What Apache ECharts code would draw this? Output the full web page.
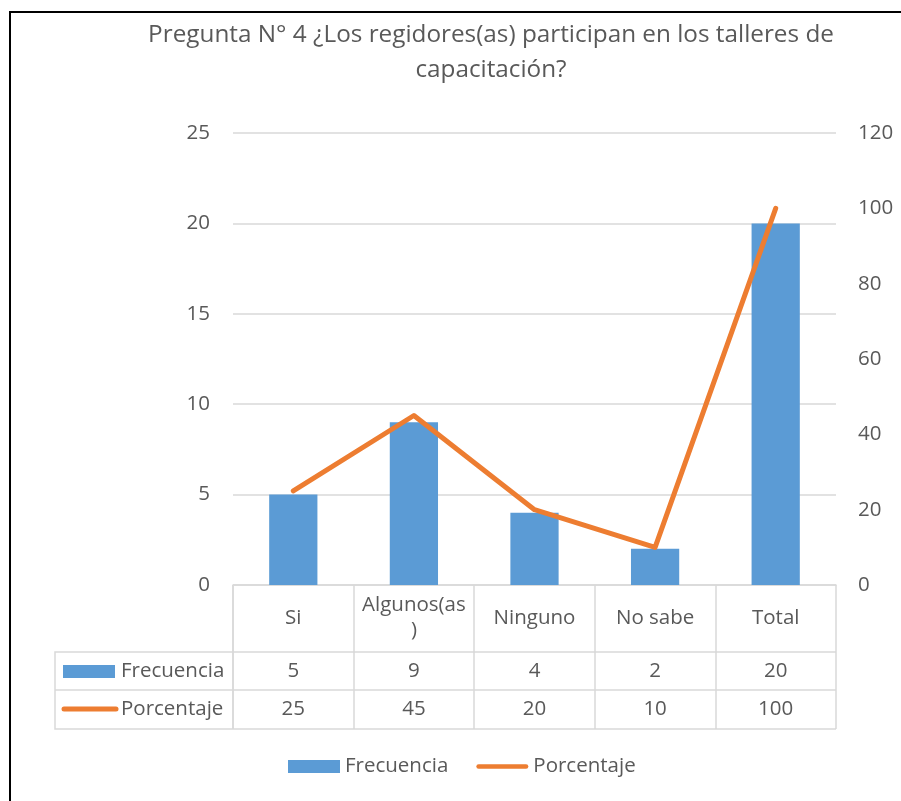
<!DOCTYPE html>
<html>
<head>
<meta charset="utf-8">
<script src="https://cdn.jsdelivr.net/npm/echarts@6/dist/echarts.min.js"></script>
<style>
  html, body { margin: 0; padding: 0; background: #fff; }
  #chart { width: 901px; height: 801px; }
</style>
</head>
<body>
<div id="chart"></div>
<script>
const categories = ['Si', 'Algunos(as)', 'Ninguno', 'No sabe', 'Total']
const frecuencia = [5, 9, 4, 2, 20]
const porcentaje = [25, 45, 20, 10, 100]
const leftTicks = [0, 5, 10, 15, 20, 25]
const rightTicks = [0, 20, 40, 60, 80, 100, 120]

const FONT = '"Open Sans", sans-serif'
const TEXT = '#595959'
const LINE = '#D9D9D9'
const BLUE = '#5B9BD5'
const ORANGE = '#ED7D31'
const FS = 20.5

// plot area (Excel layout)
const plotLeft = 233
const plotRight = 836
const plotTop = 133
const plotBottom = 585
const row1 = 652
const row2 = 690
const row3 = 729
const headLeft = 55

const chart = echarts.init(document.getElementById('chart'))

const tableAxis = (values, margin) => ({
  type: 'category',
  data: values.map(String),
  position: 'bottom',
  axisLine: { show: false },
  axisTick: { show: false },
  axisLabel: {
    margin: margin,
    verticalAlign: 'middle',
    color: TEXT,
    fontFamily: FONT,
    fontSize: FS,
    interval: 0
  }
})

const option = {
  animation: false,
  textStyle: { fontFamily: FONT },
  title: {
    text: 'Pregunta N° 4 ¿Los regidores(as) participan en los talleres de\ncapacitación?',
    left: 486,
    top: 13,
    textAlign: 'center',
    textStyle: {
      color: TEXT,
      fontFamily: FONT,
      fontSize: 24.3,
      fontWeight: 'normal',
      lineHeight: 35
    }
  },
  legend: {
    bottom: 19,
    left: 283,
    itemWidth: 52,
    itemHeight: 13,
    itemGap: 28,
    textStyle: { color: TEXT, fontFamily: FONT, fontSize: FS },
    data: [
      { name: 'Frecuencia', icon: 'rect' },
      {
        name: 'Porcentaje',
        icon: 'path://M2.5,0 H54.5 A2.5,2.5 0 0 1 54.5,5 H2.5 A2.5,2.5 0 0 1 2.5,0 Z',
        itemStyle: { color: ORANGE }
      }
    ]
  },
  grid: {
    left: plotLeft,
    right: 901 - plotRight,
    top: plotTop,
    bottom: 801 - plotBottom
  },
  xAxis: [
    {
      type: 'category',
      data: categories,
      axisLine: { lineStyle: { color: LINE, width: 1.5 } },
      axisTick: {
        show: true,
        interval: 0,
        length: row3 - plotBottom,
        lineStyle: { color: LINE, width: 1.5 }
      },
      axisLabel: {
        interval: 0,
        margin: 33,
        verticalAlign: 'middle',
        lineHeight: 25,
        color: TEXT,
        fontFamily: FONT,
        fontSize: FS,
        formatter: (v) => v === 'Algunos(as)' ? 'Algunos(as\n)' : v
      }
    },
    tableAxis(frecuencia, (row1 + row2) / 2 - plotBottom),
    tableAxis(porcentaje, (row2 + row3) / 2 - plotBottom)
  ],
  yAxis: [
    {
      type: 'value',
      min: leftTicks[0],
      max: leftTicks[leftTicks.length - 1],
      interval: 5,
      axisLine: { show: false },
      axisTick: { show: false },
      splitLine: { lineStyle: { color: LINE, width: 1.5 } },
      axisLabel: { margin: 23, color: TEXT, fontFamily: FONT, fontSize: FS }
    },
    {
      type: 'value',
      min: rightTicks[0],
      max: rightTicks[rightTicks.length - 1],
      interval: 20,
      axisLine: { show: false },
      axisTick: { show: false },
      splitLine: { show: false },
      axisLabel: { margin: 22, color: TEXT, fontFamily: FONT, fontSize: FS }
    }
  ],
  series: [
    {
      name: 'Frecuencia',
      type: 'bar',
      data: frecuencia,
      barWidth: '40%',
      itemStyle: { color: BLUE }
    },
    {
      name: 'Porcentaje',
      type: 'line',
      yAxisIndex: 1,
      data: porcentaje,
      symbol: 'none',
      lineStyle: { color: ORANGE, width: 5, join: 'round', cap: 'round' },
      itemStyle: { color: ORANGE }
    }
  ],
  graphic: [
    // outer frame (left and top edges)
    {
      type: 'polyline',
      shape: { points: [[10, 801], [10, 12], [901, 12]] },
      style: { stroke: '#000', lineWidth: 2, fill: null }
    },
    // data table header column
    {
      type: 'polyline',
      shape: { points: [[plotRight, row1], [headLeft, row1], [headLeft, row3], [plotRight, row3]] },
      style: { stroke: LINE, lineWidth: 1.5, fill: null }
    },
    {
      type: 'line',
      shape: { x1: headLeft, y1: row2, x2: plotRight, y2: row2 },
      style: { stroke: LINE, lineWidth: 1.5 }
    },
    {
      type: 'line',
      shape: { x1: plotLeft, y1: plotBottom, x2: plotLeft, y2: row3 },
      style: { stroke: LINE, lineWidth: 1.5 }
    },
    {
      type: 'rect',
      shape: { x: 63, y: 665, width: 52, height: 13 },
      style: { fill: BLUE }
    },
    {
      type: 'text',
      x: 121,
      y: (row1 + row2) / 2,
      style: { text: 'Frecuencia', fill: TEXT, font: FS + 'px ' + FONT, verticalAlign: 'middle' }
    },
    {
      type: 'line',
      shape: { x1: 64, y1: 709, x2: 116, y2: 709 },
      style: { stroke: ORANGE, lineWidth: 5, lineCap: 'round' }
    },
    {
      type: 'text',
      x: 121,
      y: (row2 + row3) / 2,
      style: { text: 'Porcentaje', fill: TEXT, font: FS + 'px ' + FONT, verticalAlign: 'middle' }
    }
  ]
}

chart.setOption(option)
</script>
</body>
</html>
